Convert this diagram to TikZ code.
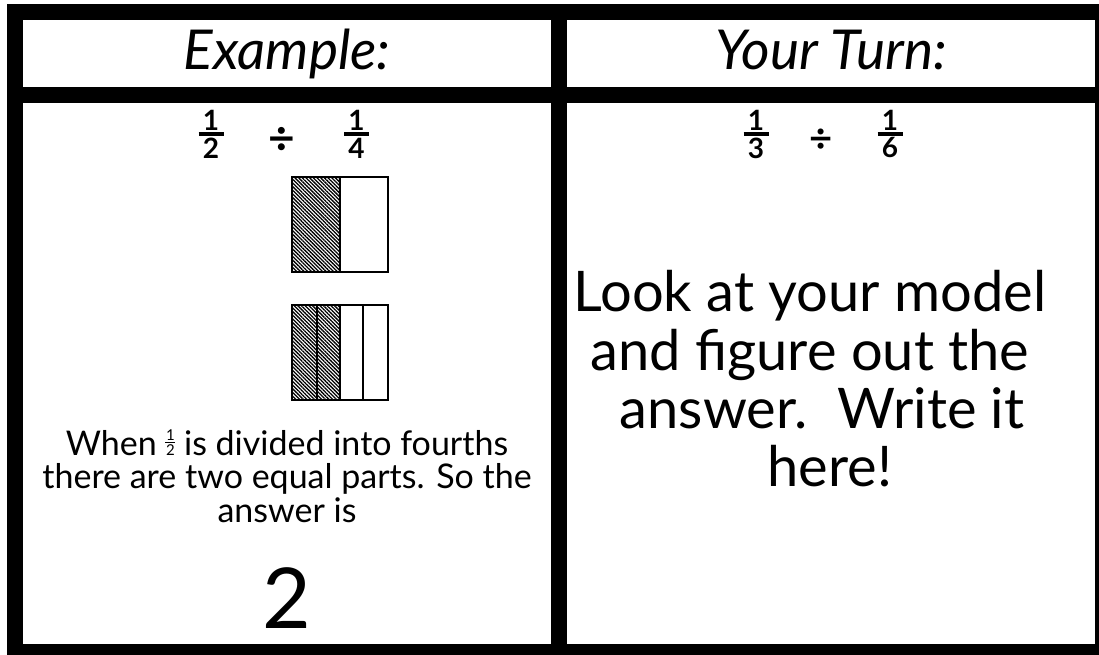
\documentclass[tikz,border=0pt]{standalone}
\usepackage{fontspec}
\setmainfont{Lato}
\usetikzlibrary{patterns.meta}
\newcommand{\bigfr}[2]{\vbox{\hbox to 25pt{\hfil#1\hfil}\kern1.6pt\hrule height 4.3pt\kern1.6pt\hbox to 25pt{\hfil#2\hfil}}}
\newcommand{\smallfr}[2]{\vbox{\hbox to 10pt{\hfil\fontsize{15}{15}\selectfont#1\hfil}\kern1.3pt\hrule height 1pt\kern1.3pt\hbox to 10pt{\hfil\fontsize{15}{15}\selectfont#2\hfil}}}
\begin{document}
\begin{tikzpicture}[x=1pt,y=-1pt,
  border/.style={line width=16pt, draw=black},
  part/.style={draw=black, line width=2pt},
  hatch/.style={pattern={Lines[angle=-45,distance=2.6pt,line width=1.3pt]}},
  hdr/.style={font=\itshape\fontsize{55}{55}\selectfont, inner sep=0pt, anchor=base},
  fr/.style={font=\bfseries\fontsize{28}{28}\selectfont, inner sep=0pt},
  dv/.style={font=\bfseries\fontsize{46}{46}\selectfont, inner sep=0pt},
  dvs/.style={font=\bfseries\fontsize{40}{40}\selectfont, inner sep=0pt},
  small/.style={font=\fontsize{34}{33.5}\selectfont, inner sep=0pt, align=center, anchor=north},
  big/.style={font=\fontsize{56}{56}\selectfont, inner sep=0pt, anchor=base},
  ans/.style={font=\fontsize{84}{84}\selectfont, inner sep=0pt, anchor=base}]
\useasboundingbox (0,0) rectangle (1099,655);
\clip (0,0) rectangle (1099,655);
\fill[white] (0,0) rectangle (1099,655);
% table borders
\draw[border] (15,12) rectangle (1103,652);
\draw[border] (15,95) -- (1103,95);
\draw[border] (559,12) -- (559,652);
% headers
\node[hdr] (hex) at (287,70) {Example:};
\node[hdr] (hyt) at (831,70) {Your Turn:};
% left problem
\node[fr] (fa) at (211,134) {\bigfr{1}{2}};
\node[dv] (da) at (282,141) {÷};
\node[fr] (fb) at (356.5,134) {\bigfr{1}{4}};
% model one half
\path[hatch] (292.3,177.3) rectangle (340.3,272.3);
\draw[part] (292.3,177.3) rectangle (388.3,272.3);
\draw[part] (340.3,177.3) -- (340.3,272.3);
% model fourths
\path[hatch] (292.3,305) rectangle (340,400);
\draw[part] (292.3,305) rectangle (387.7,400);
\draw[part] (316.7,305) -- (316.7,400);
\draw[part] (340,305) -- (340,400);
\draw[part] (363.3,305) -- (363.3,400);
% explanation
\node[small] (expl) at (287,430) {When \smallfr{1}{2} is divided into fourths\\there are two equal parts. So the\\answer is};
\node[ans] (two) at (287,628) {2};
% right problem
\node[fr] (fc) at (756,134) {\bigfr{1}{3}};
\node[dvs] (db) at (821.5,141) {÷};
\node[fr] (fd) at (890,134) {\bigfr{1}{6}};
\node[big] (r1) at (810,311) {Look at your model};
\node[big] (r2) at (810,370) {and figure out the};
\node[big] (r3) at (822,428) {answer.\hspace{30pt}Write it};
\node[big] (r4) at (830,486) {here!};
\end{tikzpicture}
\end{document}
